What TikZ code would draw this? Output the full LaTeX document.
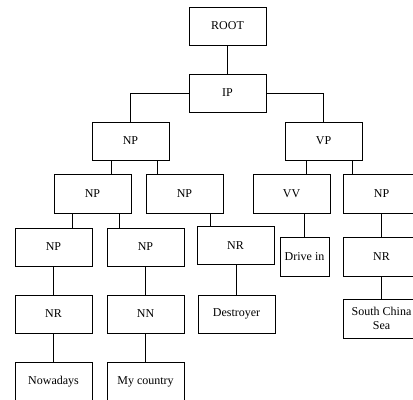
\documentclass[tikz,border=0pt]{standalone}
\usepackage{fontspec}
\setmainfont{Liberation Serif}
\begin{document}
\begin{tikzpicture}[x=0.75pt,y=-0.75pt,
  box/.style={draw,line width=0.6pt,minimum width={77*0.75pt},minimum height={38*0.75pt},inner sep=0pt,align=center,font=\fontsize{9}{10.5}\selectfont},
  tall/.style={minimum height={39*0.75pt}},
  link/.style={line width=0.6pt}]
\useasboundingbox (0,0) rectangle (413,399);
\clip (0,0) rectangle (413,399);
\node[box] (root) at (227.5,26) {ROOT};
\node[box] (ip) at (227.5,93) {IP};
\node[box] (np1) at (130.5,141) {NP};
\node[box] (vp) at (323.5,141) {VP};
\node[box,tall] (np2) at (92.5,193.5) {NP};
\node[box,tall] (np3) at (184.5,193.5) {NP};
\node[box,tall] (vv) at (291.5,193.5) {VV};
\node[box,tall] (npr) at (381.5,193.5) {NP};
\node[box] (np4) at (53.5,247) {NP};
\node[box] (np5) at (145.5,247) {NP};
\node[box] (nrd) at (235.5,245.5) {NR};
\node[box,tall,minimum width={49*0.75pt}] (drive) at (304.5,256.5) {Drive in};
\node[box,tall] (nrr) at (381.5,256.5) {NR};
\node[box] (nr5) at (53.5,314) {NR};
\node[box] (nn) at (145.5,314) {NN};
\node[box] (des) at (236.5,314) {Destroyer};
\node[box,tall] (scs) at (381.5,318.5) {South China\\Sea};
\node[box,minimum height={40*0.75pt}] (now) at (53.5,382) {Nowadays};
\node[box,minimum height={40*0.75pt}] (myc) at (145.5,382) {My country};
\draw[link] (root) -- (ip);
\draw[link] (ip.west) -| (np1.north);
\draw[link] (ip.east) -| (vp.north);
\draw[link] (np1.south west) ++(20,0) coordinate (a1) -- (a1 |- np2.north);
\draw[link] (np1.south east) ++(-12,0) coordinate (a2) -- (a2 |- np3.north);
\draw[link] (vp.south west) ++(22,0) coordinate (a3) -- (a3 |- vv.north);
\draw[link] (vp.south east) ++(-10,0) coordinate (a4) -- (a4 |- npr.north);
\draw[link] (np2.south west) ++(19,0) coordinate (a5) -- (a5 |- np4.north);
\draw[link] (np2.south east) ++(-12,0) coordinate (a6) -- (a6 |- np5.north);
\draw[link] (np3.south east) ++(-13,0) coordinate (a7) -- (a7 |- nrd.north);
\draw[link] (drive.north) -- (drive.north |- vv.south);
\draw[link] (npr) -- (nrr);
\draw[link] (np4) -- (nr5);
\draw[link] (np5) -- (nn);
\draw[link] (des.north) -- (des.north |- nrd.south);
\draw[link] (nrr) -- (scs);
\draw[link] (nr5) -- (now);
\draw[link] (nn) -- (myc);
\end{tikzpicture}
\end{document}
